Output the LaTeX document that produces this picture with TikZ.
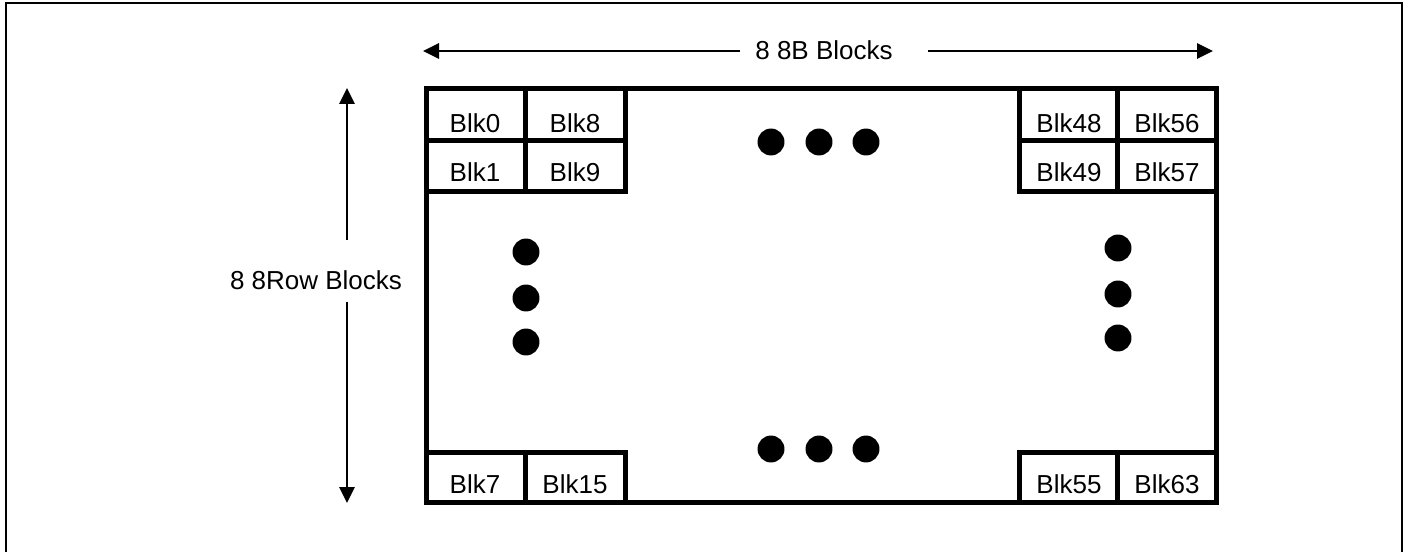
\documentclass[tikz,border=0pt]{standalone}
\usepackage{fontspec}
\setmainfont{Liberation Sans}
\usetikzlibrary{arrows.meta}

\begin{document}
\begin{tikzpicture}[x=0.75pt, y=-0.75pt, font=\fontsize{19.5}{23}\selectfont,
    box/.style={line width=3.75pt},
    arr/.style={line width=1.5pt, -{Triangle[length=12pt,width=11.5pt]}},
    dot/.style={fill=black}]
    \useasboundingbox (0,0) rectangle (1406,552);

    % 外框
    \draw[line width=1.5pt] (6,556) -- (6,3) -- (1402,3) -- (1402,556);

    % 主区域
    \draw[box] (426,89) rectangle (1216,502.5);

    % 角上的块
    \draw[box] (426,89) rectangle (625,192) (525,89) -- (525,192) (426,140.5) -- (625,140.5);
    \draw[box] (1019,89) rectangle (1216,192) (1117,89) -- (1117,192) (1019,140.5) -- (1216,140.5);
    \draw[box] (426,452) rectangle (625,502.5) (525,452) -- (525,502.5);
    \draw[box] (1019,452) rectangle (1216,502.5) (1117,452) -- (1117,502.5);

    % 块标签
    \foreach \x/\y/\t in {475/123/Blk0, 575/123/Blk8, 475/172/Blk1, 575/172/Blk9,
        475/484/Blk7, 575/484/Blk15, 1069/123/Blk48, 1167/123/Blk56,
        1069/172/Blk49, 1167/172/Blk57, 1069/484/Blk55, 1167/484/Blk63}
        \node (\t) at (\x,\y) {\t};

    % 省略点
    \foreach \x in {771,819,866} {
        \fill[dot] (\x,142) circle[radius=10.1pt];
        \fill[dot] (\x,449) circle[radius=10.1pt];
    }
    \foreach \y in {252,298,342} \fill[dot] (526,\y) circle[radius=10.1pt];
    \foreach \y in {248,294,338} \fill[dot] (1118,\y) circle[radius=10.1pt];

    % 宽度箭头
    \node (wlab) at (824,50) {8 8B Blocks};
    \coordinate (wl) at (740,51);
    \coordinate (wltip) at (423,51);
    \coordinate (wr) at (928,51);
    \coordinate (wrtip) at (1213,51);
    \draw[arr] (wl) -- (wltip);
    \draw[arr] (wr) -- (wrtip);

    % 高度箭头
    \node (hlab) at (316,280) {8 8Row Blocks};
    \coordinate (hu) at (347,240);
    \coordinate (hutip) at (347,88);
    \coordinate (hd) at (347,302);
    \coordinate (hdtip) at (347,503);
    \draw[arr] (hu) -- (hutip);
    \draw[arr] (hd) -- (hdtip);
\end{tikzpicture}
\end{document}
